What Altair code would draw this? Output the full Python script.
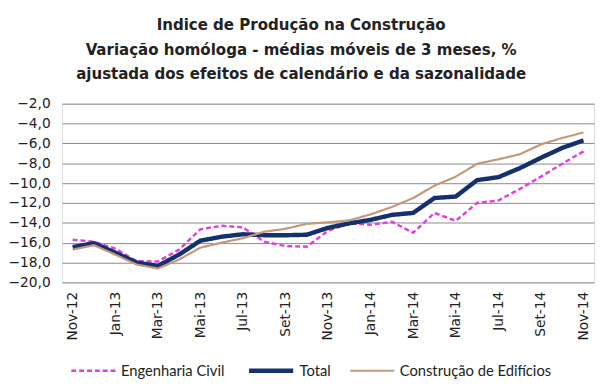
import altair as alt
import pandas as pd

months = ["Nov-12", "Dez-12", "Jan-13", "Fev-13", "Mar-13", "Abr-13", "Mai-13", "Jun-13",
          "Jul-13", "Ago-13", "Set-13", "Out-13", "Nov-13", "Dez-13", "Jan-14", "Fev-14",
          "Mar-14", "Abr-14", "Mai-14", "Jun-14", "Jul-14", "Ago-14", "Set-14", "Out-14", "Nov-14"]
tick_labels = months[::2]

eng_civil = [-15.7, -15.9, -16.6, -17.85, -17.9, -16.7, -14.65, -14.3, -14.45, -15.9, -16.35, -16.4,
             -14.8, -14.05, -14.2, -13.9, -15.0, -13.0, -13.8, -12.0, -11.75, -10.6, -9.35, -8.05, -6.8]
total = [-16.45, -16.05, -17.0, -18.0, -18.35, -17.2, -15.8, -15.4, -15.15, -15.25, -15.25, -15.2,
         -14.5, -14.05, -13.7, -13.2, -13.0, -11.5, -11.35, -9.7, -9.4, -8.5, -7.45, -6.45, -5.7]
edificios = [-16.7, -16.25, -17.2, -18.2, -18.6, -17.7, -16.5, -16.0, -15.55, -14.9, -14.6, -14.1,
             -13.95, -13.75, -13.15, -12.4, -11.5, -10.25, -9.35, -8.05, -7.6, -7.1, -6.1, -5.45, -4.9]

series = ["Engenharia Civil", "Total", "Construção de Edifícios"]
colors = ["#E23FE0", "#14306E", "#C49878"]
dashes = [[5, 3], [1, 0], [1, 0]]
widths = [2.5, 4.5, 2.2]

rows = []
for name, vals in zip(series, [eng_civil, total, edificios]):
    for i, (m, v) in enumerate(zip(months, vals)):
        rows.append({"mes": m, "idx": i, "serie": name, "valor": v})
df = pd.DataFrame(rows)

title_font = "DejaVu Sans Condensed"
axis_font = "DejaVu Sans"
legend_font = "Liberation Sans Narrow, Lato"

chart = alt.Chart(df).mark_line().encode(
    x=alt.X("mes:N", sort=months, title=None,
            scale=alt.Scale(type="point", padding=0.5),
            axis=alt.Axis(values=tick_labels, labelAngle=-90, labelFont=axis_font,
                          labelFontSize=14, labelColor="#222", ticks=False, domain=False,
                          grid=False, labelPadding=9, labelBaseline="middle", labelAlign="right")),
    y=alt.Y("valor:Q", title=None,
            scale=alt.Scale(domain=[-20, -2], nice=False, zero=False),
            axis=alt.Axis(values=list(range(-20, -1, 2)), labelFont=axis_font, labelFontSize=14,
                          labelColor="#222", ticks=False, domain=False, gridColor="#8a8a8a",
                          gridWidth=1, labelPadding=12, minExtent=45, maxExtent=45,
                          labelExpr="replace(format(datum.value, '.1f'), '.', ',')")),
    color=alt.Color("serie:N", sort=series,
                    scale=alt.Scale(domain=series, range=colors),
                    legend=alt.Legend(title=None, orient="none", direction="horizontal",
                                      legendX=8, legendY=247, symbolType="stroke",
                                      symbolSize=2025, labelFont=legend_font, labelFontSize=15,
                                      labelColor="#222", columnPadding=15, labelOffset=4)),
    strokeDash=alt.StrokeDash("serie:N", sort=series,
                              scale=alt.Scale(domain=series, range=dashes)),
    strokeWidth=alt.StrokeWidth("serie:N", sort=series,
                                scale=alt.Scale(type="ordinal", domain=series, range=widths)),
    order=alt.Order("idx:Q"),
).properties(
    width=542,
    height=182,
    padding={"left": 0, "top": 5, "right": 8, "bottom": 0},
    title=alt.TitleParams(
        text=["Indice de Produção na Construção",
              "Variação homóloga - médias móveis de 3 meses, %",
              "ajustada dos efeitos de calendário  e da sazonalidade"],
        font=title_font, fontSize=17, fontWeight="bold", color="#222",
        lineHeight=25, anchor="middle", frame="bounds", offset=14),
).configure_view(stroke="#333", strokeWidth=1).configure(background="white")

chart.save("out.html", embed_options={"renderer": "svg", "actions": False})
